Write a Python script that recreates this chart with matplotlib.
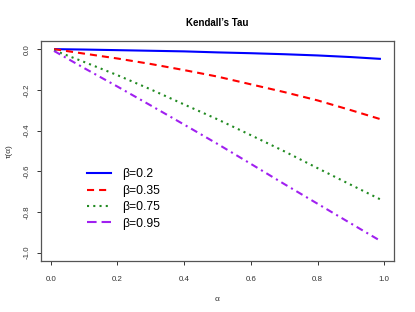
import matplotlib
matplotlib.use("Agg")
import matplotlib.pyplot as plt
from matplotlib.lines import Line2D

plt.rcParams['font.family'] = ['Liberation Sans', 'DejaVu Sans']

alpha = [0.01, 0.1, 0.2, 0.3, 0.4, 0.5, 0.6, 0.7, 0.8, 0.9, 0.99]
tau_b02 = [0.0, -0.002, -0.005, -0.008, -0.011, -0.016, -0.020, -0.025, -0.031, -0.039, -0.048]
tau_b035 = [0.0, -0.022, -0.046, -0.073, -0.103, -0.135, -0.173, -0.211, -0.252, -0.300, -0.345]
tau_b075 = [-0.006, -0.063, -0.128, -0.198, -0.272, -0.345, -0.423, -0.502, -0.585, -0.667, -0.740]
tau_b095 = [-0.009, -0.093, -0.184, -0.277, -0.371, -0.466, -0.564, -0.663, -0.760, -0.857, -0.944]
labels = ['β=0.2', 'β=0.35', 'β=0.75', 'β=0.95']
xticks = [0.0, 0.2, 0.4, 0.6, 0.8, 1.0]
yticks = [0.0, -0.2, -0.4, -0.6, -0.8, -1.0]

fig = plt.figure(figsize=(4.15, 3.12), dpi=100)
ax = fig.add_axes([41/415, 1-260.7/312, (394-41)/415, (260.7-41)/312])

lw = 1.5
ax.plot(alpha, tau_b02, color='#0000FF', lw=lw, solid_capstyle='butt')
ax.plot(alpha, tau_b035, color='#FF0000', lw=lw, dashes=(3.4, 2.4))
ax.plot(alpha, tau_b075, color='#228B22', lw=lw, dashes=(1, 2))
ax.plot(alpha, tau_b095, color='#A020F0', lw=lw, dashes=(3.4, 2, 1, 2))

ax.set_xlim(-0.0292, 1.0292)
ax.set_ylim(-1.04, 0.04)
ax.set_xticks(xticks)
ax.set_xticklabels(['%.1f' % v for v in xticks])
ax.set_yticks(yticks)
ax.set_yticklabels(['%.1f' % v for v in yticks], rotation=90, va='center')
ax.tick_params(axis='both', labelsize=5.7, colors='#333333', length=3.2, width=0.7, pad=8)
ax.tick_params(axis='y', pad=4)
for s in ax.spines.values():
    s.set_color('#555555')
    s.set_linewidth(0.9)

ax.set_title("Kendall’s Tau", fontsize=7, fontweight='bold', pad=11)
ax.set_xlabel('α', fontsize=6, labelpad=9, color='#333333')
ax.set_ylabel('τ(α)', fontsize=6, labelpad=8, color='#333333')

handles = [
    Line2D([], [], color='#0000FF', lw=lw),
    Line2D([], [], color='#FF0000', lw=lw, dashes=(3.4, 2.4)),
    Line2D([], [], color='#228B22', lw=lw, dashes=(1, 2)),
    Line2D([], [], color='#A020F0', lw=lw, dashes=(4.6, 2.4)),
]
ax.legend(handles, labels, loc='upper left', bbox_to_anchor=(87/415, 1-168.5/312),
          bbox_transform=fig.transFigure, frameon=False, fontsize=8.7,
          handlelength=2.0, handletextpad=0.9, labelspacing=0.36, borderpad=0,
          borderaxespad=0)

fig.savefig('out.png', dpi=100)
